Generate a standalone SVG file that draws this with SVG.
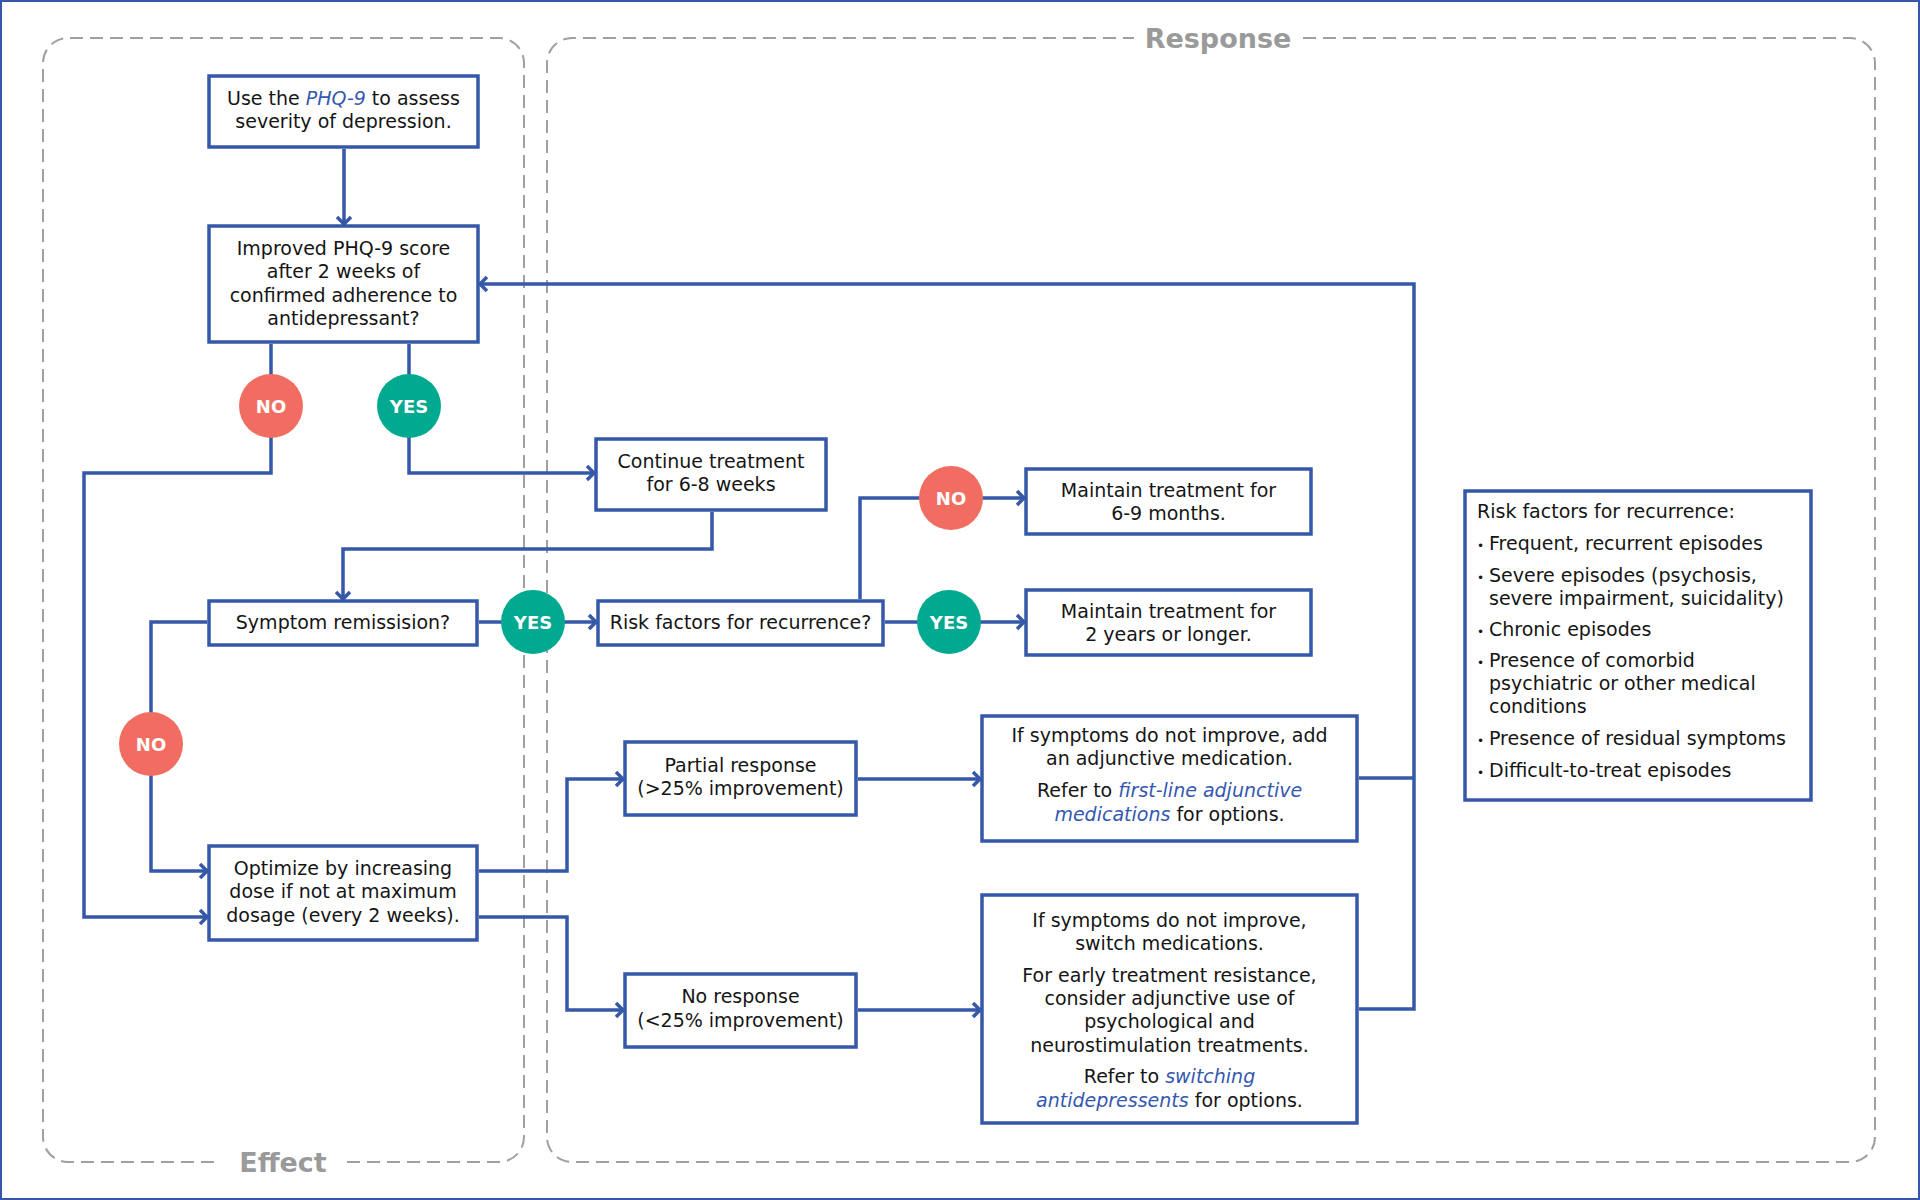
<svg xmlns="http://www.w3.org/2000/svg" width="1920" height="1200" viewBox="0 0 1920 1200">
<style>
.frame{fill:none;stroke:#3558a8;stroke-width:2}
.cont{fill:none;stroke:#a0a0a0;stroke-width:2;stroke-dasharray:13 7}
.clabel{font-family:"DejaVu Sans",sans-serif;font-weight:bold;font-size:27px;fill:#9a9a9a;text-anchor:middle}
.box{fill:#fff;stroke:#3558a8;stroke-width:3.5}
.t{font-family:"DejaVu Sans",sans-serif;font-size:19px;fill:#151515;text-anchor:middle}
.tl{font-family:"DejaVu Sans",sans-serif;font-size:19px;fill:#151515}
.lk{font-style:italic;fill:#3558b0}
.con{fill:none;stroke:#3558a8;stroke-width:3.5;marker-end:url(#ah)}
.con2{fill:none;stroke:#3558a8;stroke-width:3.5}
.no{fill:#f26d61}
.yes{fill:#00a98f}
.bt{font-family:"DejaVu Sans",sans-serif;font-weight:bold;font-size:18px;fill:#fff;text-anchor:middle}
.dot{font-size:12px}
</style>
<defs>
<marker id="ah" markerUnits="userSpaceOnUse" viewBox="-12 -10 14 20" refX="-1" refY="0" markerWidth="14" markerHeight="20" orient="auto">
<path d="M-8,-7 L-1,0 L-8,7" fill="none" stroke="#3558a8" stroke-width="3.5"/>
</marker>
</defs>
<rect x="1" y="1" width="1918" height="1198" class="frame"/>
<g id="containers">
<path class="cont" d="M347,1162 H499 A25,25 0 0 0 524,1137 V63 A25,25 0 0 0 499,38 H68 A25,25 0 0 0 43,63 V1137 A25,25 0 0 0 68,1162 H220"/>
<text class="clabel" x="283" y="1172">Effect</text>
<path class="cont" d="M1303,38 H1850 A25,25 0 0 1 1875,63 V1137 A25,25 0 0 1 1850,1162 H572 A25,25 0 0 1 547,1137 V63 A25,25 0 0 1 572,38 H1134"/>
<text class="clabel" x="1218" y="48">Response</text>
</g>
<g id="connectors">
<path class="con" d="M344,149 V224"/>
<path class="con" d="M271,344 V473 H84 V917 H207"/>
<path class="con" d="M409,344 V473 H594"/>
<path class="con" d="M712,512 V549 H343 V599"/>
<path class="con" d="M479,622 H596"/>
<path class="con" d="M207,622 H151 V871 H207"/>
<path class="con" d="M860,599 V498 H1024"/>
<path class="con" d="M885,622 H1024"/>
<path class="con" d="M479,871 H567 V779 H623"/>
<path class="con" d="M479,917 H567 V1010 H623"/>
<path class="con" d="M858,779 H980"/>
<path class="con" d="M858,1010 H980"/>
<path class="con" d="M1359,1009 H1414 V284 H480"/>
<path class="con2" d="M1359,778 H1414"/>
<g id="labels">
<circle class="no" cx="271" cy="406" r="32"/><text class="bt" x="271" y="413">NO</text>
<circle class="yes" cx="409" cy="406" r="32"/><text class="bt" x="409" y="413">YES</text>
<circle class="no" cx="151" cy="744" r="32"/><text class="bt" x="151" y="751">NO</text>
<circle class="yes" cx="533" cy="622" r="32"/><text class="bt" x="533" y="629">YES</text>
<circle class="no" cx="951" cy="498" r="32"/><text class="bt" x="951" y="505">NO</text>
<circle class="yes" cx="949" cy="622" r="32"/><text class="bt" x="949" y="629">YES</text>
</g>
</g>
<g id="n-phq">
<rect class="box" x="209" y="76" width="269" height="71"/>
<text class="t" x="343.5" y="105">Use the <tspan class="lk">PHQ-9</tspan> to assess</text>
<text class="t" x="343.5" y="128">severity of depression.</text>
</g>
<g id="n-improved">
<rect class="box" x="209" y="226" width="269" height="116"/>
<text class="t" x="343.5" y="255">Improved PHQ-9 score</text>
<text class="t" x="343.5" y="278">after 2 weeks of</text>
<text class="t" x="343.5" y="302">confirmed adherence to</text>
<text class="t" x="343.5" y="325">antidepressant?</text>
</g>
<g id="n-continue">
<rect class="box" x="596" y="439" width="230" height="71"/>
<text class="t" x="711" y="468">Continue treatment</text>
<text class="t" x="711" y="491">for 6-8 weeks</text>
</g>
<g id="n-remission">
<rect class="box" x="209" y="601" width="268" height="44"/>
<text class="t" x="343" y="629">Symptom remissision?</text>
</g>
<g id="n-risk">
<rect class="box" x="598" y="601" width="285" height="44"/>
<text class="t" x="740.5" y="629">Risk factors for recurrence?</text>
</g>
<g id="n-maintain1">
<rect class="box" x="1026" y="469" width="285" height="65"/>
<text class="t" x="1168.5" y="497">Maintain treatment for</text>
<text class="t" x="1168.5" y="520">6-9 months.</text>
</g>
<g id="n-maintain2">
<rect class="box" x="1026" y="590" width="285" height="65"/>
<text class="t" x="1168.5" y="618">Maintain treatment for</text>
<text class="t" x="1168.5" y="641">2 years or longer.</text>
</g>
<g id="n-riskinfo">
<rect class="box" x="1465" y="491" width="346" height="309"/>
<text class="tl" x="1477" y="518">Risk factors for recurrence:</text>
<text class="tl" x="1477" y="550"><tspan class="dot">•</tspan><tspan x="1489">Frequent, recurrent episodes</tspan></text>
<text class="tl" x="1477" y="582"><tspan class="dot">•</tspan><tspan x="1489">Severe episodes (psychosis,</tspan></text>
<text class="tl" x="1489" y="605">severe impairment, suicidality)</text>
<text class="tl" x="1477" y="636"><tspan class="dot">•</tspan><tspan x="1489">Chronic episodes</tspan></text>
<text class="tl" x="1477" y="667"><tspan class="dot">•</tspan><tspan x="1489">Presence of comorbid</tspan></text>
<text class="tl" x="1489" y="690">psychiatric or other medical</text>
<text class="tl" x="1489" y="713">conditions</text>
<text class="tl" x="1477" y="745"><tspan class="dot">•</tspan><tspan x="1489">Presence of residual symptoms</tspan></text>
<text class="tl" x="1477" y="777"><tspan class="dot">•</tspan><tspan x="1489">Difficult-to-treat episodes</tspan></text>
</g>
<g id="n-optimize">
<rect class="box" x="209" y="846" width="268" height="94"/>
<text class="t" x="343" y="875">Optimize by increasing</text>
<text class="t" x="343" y="898">dose if not at maximum</text>
<text class="t" x="343" y="922">dosage (every 2 weeks).</text>
</g>
<g id="n-partial">
<rect class="box" x="625" y="742" width="231" height="73"/>
<text class="t" x="740.5" y="772">Partial response</text>
<text class="t" x="740.5" y="795">(&gt;25% improvement)</text>
</g>
<g id="n-noresp">
<rect class="box" x="625" y="974" width="231" height="73"/>
<text class="t" x="740.5" y="1003">No response</text>
<text class="t" x="740.5" y="1027">(&lt;25% improvement)</text>
</g>
<g id="n-adjunct">
<rect class="box" x="982" y="716" width="375" height="125"/>
<text class="t" x="1169.5" y="742">If symptoms do not improve, add</text>
<text class="t" x="1169.5" y="765">an adjunctive medication.</text>
<text class="t" x="1169.5" y="797">Refer to <tspan class="lk">first-line adjunctive</tspan></text>
<text class="t" x="1169.5" y="821"><tspan class="lk">medications</tspan> for options.</text>
</g>
<g id="n-switch">
<rect class="box" x="982" y="895" width="375" height="228"/>
<text class="t" x="1169.5" y="927">If symptoms do not improve,</text>
<text class="t" x="1169.5" y="950">switch medications.</text>
<text class="t" x="1169.5" y="982">For early treatment resistance,</text>
<text class="t" x="1169.5" y="1005">consider adjunctive use of</text>
<text class="t" x="1169.5" y="1028">psychological and</text>
<text class="t" x="1169.5" y="1052">neurostimulation treatments.</text>
<text class="t" x="1169.5" y="1083">Refer to <tspan class="lk">switching</tspan></text>
<text class="t" x="1169.5" y="1107"><tspan class="lk">antidepressents</tspan> for options.</text>
</g>
</svg>
